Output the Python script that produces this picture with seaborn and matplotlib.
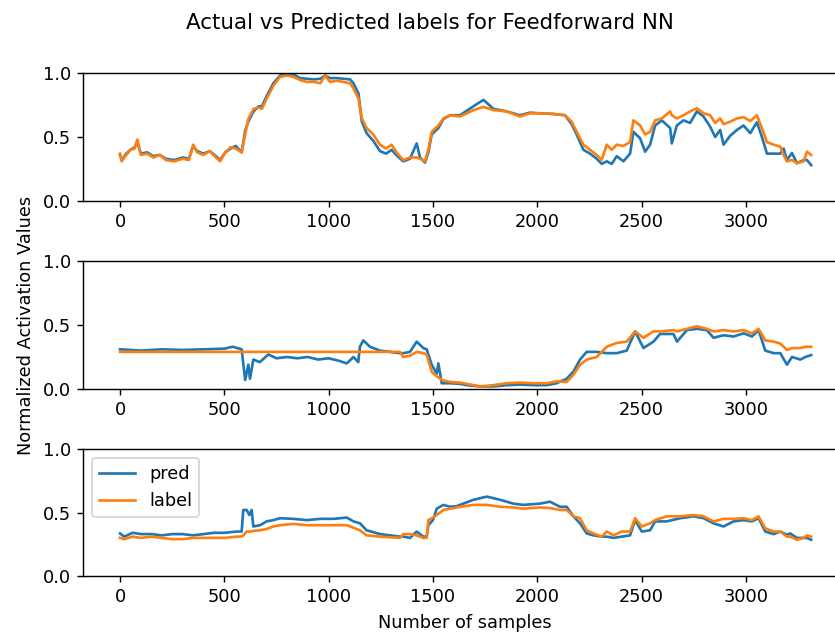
import matplotlib
matplotlib.use("Agg")
import matplotlib.pyplot as plt
import seaborn as sns
import pandas as pd

# ---------------- data ----------------
top_x = [0, 8, 30, 50, 70, 83, 100, 130, 160, 190, 220, 260, 300, 330, 351, 370, 400, 430, 460, 480,
         505, 530, 555, 583, 600, 615, 640, 665, 680, 703, 735, 767, 799, 831, 863, 895, 930, 960, 983,
         1007, 1040, 1070, 1103, 1119, 1143, 1159, 1182, 1214, 1246, 1275, 1302, 1330, 1358, 1390, 1422,
         1438, 1462, 1478, 1494, 1526, 1550, 1582, 1630, 1694, 1742, 1790, 1853, 1917, 1965, 2014, 2077,
         2133, 2165, 2189, 2221, 2253, 2285, 2309, 2333, 2357, 2381, 2413, 2445, 2461, 2493, 2517, 2541,
         2565, 2597, 2637, 2645, 2669, 2701, 2733, 2765, 2797, 2829, 2853, 2877, 2893, 2925, 2957, 2989,
         3021, 3053, 3077, 3101, 3133, 3165, 3181, 3197, 3221, 3245, 3277, 3293, 3313]
top_label = [0.37, 0.31, 0.36, 0.40, 0.41, 0.48, 0.36, 0.37, 0.34, 0.36, 0.32, 0.31, 0.33, 0.32, 0.44,
             0.38, 0.36, 0.39, 0.34, 0.31, 0.38, 0.42, 0.41, 0.38, 0.52, 0.64, 0.72, 0.73, 0.72, 0.80,
             0.90, 0.97, 0.98, 0.97, 0.945, 0.93, 0.93, 0.92, 0.98, 0.93, 0.94, 0.93, 0.92, 0.88, 0.80,
             0.645, 0.57, 0.52, 0.44, 0.41, 0.44, 0.37, 0.32, 0.34, 0.34, 0.33, 0.31, 0.40, 0.54, 0.59,
             0.645, 0.67, 0.66, 0.71, 0.735, 0.71, 0.70, 0.66, 0.685, 0.685, 0.68, 0.67, 0.62, 0.54,
             0.44, 0.40, 0.36, 0.32, 0.44, 0.40, 0.44, 0.43, 0.46, 0.63, 0.59, 0.52, 0.54, 0.63, 0.645,
             0.70, 0.67, 0.645, 0.67, 0.70, 0.725, 0.685, 0.67, 0.61, 0.645, 0.60, 0.62, 0.645, 0.655,
             0.625, 0.67, 0.57, 0.46, 0.44, 0.425, 0.36, 0.31, 0.32, 0.295, 0.31, 0.385, 0.36]
top_pred = [0.36, 0.32, 0.37, 0.40, 0.42, 0.46, 0.37, 0.38, 0.35, 0.36, 0.33, 0.32, 0.34, 0.33, 0.43,
            0.39, 0.37, 0.39, 0.35, 0.32, 0.38, 0.41, 0.43, 0.38, 0.55, 0.62, 0.70, 0.74, 0.74, 0.82,
            0.92, 0.98, 0.99, 0.99, 0.96, 0.955, 0.95, 0.955, 0.98, 0.96, 0.96, 0.955, 0.95, 0.92, 0.84,
            0.62, 0.53, 0.47, 0.39, 0.37, 0.40, 0.35, 0.31, 0.33, 0.45, 0.34, 0.30, 0.38, 0.52, 0.57,
            0.64, 0.67, 0.67, 0.74, 0.79, 0.72, 0.70, 0.67, 0.69, 0.685, 0.68, 0.67, 0.60, 0.52,
            0.40, 0.37, 0.33, 0.29, 0.31, 0.29, 0.35, 0.31, 0.37, 0.54, 0.49, 0.385, 0.44, 0.59, 0.63,
            0.57, 0.45, 0.59, 0.63, 0.61, 0.70, 0.66, 0.58, 0.50, 0.555, 0.44, 0.51, 0.555, 0.59,
            0.53, 0.615, 0.50, 0.37, 0.37, 0.37, 0.41, 0.32, 0.375, 0.295, 0.32, 0.32, 0.28]

mid_x = [0, 100, 200, 300, 400, 500, 540, 583, 600, 615, 623, 639, 670, 711, 750, 800, 850, 900, 950,
         1000, 1050, 1087, 1119, 1142, 1150, 1166, 1198, 1246, 1294, 1342, 1358, 1390, 1422, 1454, 1470,
         1494, 1518, 1526, 1542, 1582, 1630, 1662, 1726, 1790, 1853, 1917, 1981, 2045, 2093, 2141, 2173,
         2205, 2237, 2285, 2333, 2381, 2429, 2469, 2509, 2557, 2589, 2653, 2670, 2717, 2765, 2813, 2845,
         2893, 2941, 2989, 3029, 3061, 3093, 3133, 3165, 3197, 3221, 3261, 3285, 3313]
mid_label = [0.29, 0.29, 0.29, 0.29, 0.29, 0.29, 0.29, 0.29, 0.29, 0.29, 0.29, 0.29, 0.29, 0.29, 0.29,
             0.29, 0.29, 0.29, 0.29, 0.29, 0.29, 0.29, 0.29, 0.29, 0.29, 0.29, 0.29, 0.29, 0.29, 0.29,
             0.25, 0.26, 0.29, 0.28, 0.27, 0.135, 0.10, 0.09, 0.07, 0.055, 0.05, 0.04, 0.02, 0.03, 0.045,
             0.05, 0.045, 0.045, 0.06, 0.055, 0.11, 0.19, 0.23, 0.25, 0.33, 0.36, 0.37, 0.45, 0.40, 0.45,
             0.45, 0.46, 0.45, 0.47, 0.49, 0.47, 0.45, 0.46, 0.45, 0.46, 0.435, 0.47, 0.38, 0.37, 0.355,
             0.305, 0.32, 0.32, 0.33, 0.33]
mid_pred = [0.31, 0.30, 0.31, 0.305, 0.31, 0.315, 0.33, 0.31, 0.07, 0.19, 0.08, 0.23, 0.21, 0.27, 0.24,
            0.25, 0.24, 0.25, 0.23, 0.24, 0.22, 0.20, 0.25, 0.21, 0.33, 0.38, 0.33, 0.30, 0.29, 0.28,
            0.28, 0.29, 0.37, 0.32, 0.31, 0.19, 0.12, 0.20, 0.045, 0.045, 0.04, 0.03, 0.02, 0.02, 0.03,
            0.035, 0.03, 0.03, 0.045, 0.08, 0.135, 0.23, 0.29, 0.29, 0.28, 0.28, 0.30, 0.45, 0.32, 0.37,
            0.43, 0.43, 0.37, 0.46, 0.47, 0.46, 0.40, 0.42, 0.41, 0.435, 0.41, 0.46, 0.30, 0.28, 0.28,
            0.19, 0.25, 0.23, 0.25, 0.265]

bot_x = [0, 20, 60, 100, 150, 200, 250, 300, 350, 400, 450, 500, 560, 583, 591, 607, 620, 631, 639, 671,
         703, 735, 767, 831, 895, 959, 1023, 1087, 1119, 1150, 1182, 1246, 1294, 1342, 1358, 1390, 1422,
         1454, 1470, 1478, 1500, 1518, 1550, 1582, 1614, 1694, 1758, 1822, 1885, 1933, 2014, 2061, 2109,
         2141, 2173, 2205, 2237, 2269, 2309, 2333, 2365, 2405, 2445, 2469, 2501, 2541, 2565, 2621, 2685,
         2749, 2797, 2845, 2893, 2941, 2989, 3029, 3061, 3093, 3133, 3165, 3197, 3213, 3245, 3277, 3293,
         3313]
bot_label = [0.30, 0.29, 0.31, 0.30, 0.31, 0.30, 0.29, 0.29, 0.30, 0.30, 0.30, 0.30, 0.31, 0.31, 0.32,
             0.35, 0.35, 0.35, 0.355, 0.36, 0.37, 0.39, 0.40, 0.41, 0.40, 0.40, 0.40, 0.40, 0.38, 0.36,
             0.32, 0.31, 0.305, 0.30, 0.33, 0.33, 0.32, 0.30, 0.30, 0.44, 0.46, 0.48, 0.52, 0.53, 0.54,
             0.56, 0.56, 0.545, 0.54, 0.53, 0.54, 0.535, 0.52, 0.52, 0.47, 0.455, 0.36, 0.335, 0.31, 0.35,
             0.32, 0.35, 0.35, 0.455, 0.39, 0.415, 0.44, 0.47, 0.47, 0.48, 0.47, 0.43, 0.45, 0.45, 0.455,
             0.44, 0.47, 0.375, 0.35, 0.35, 0.31, 0.31, 0.285, 0.30, 0.32, 0.31]
bot_pred = [0.335, 0.31, 0.34, 0.33, 0.33, 0.32, 0.33, 0.33, 0.32, 0.33, 0.34, 0.34, 0.35, 0.35, 0.52,
            0.52, 0.48, 0.52, 0.39, 0.40, 0.43, 0.44, 0.455, 0.45, 0.44, 0.45, 0.45, 0.46, 0.43, 0.415,
            0.36, 0.33, 0.32, 0.31, 0.31, 0.30, 0.35, 0.31, 0.31, 0.40, 0.44, 0.53, 0.56, 0.545, 0.55,
            0.60, 0.625, 0.60, 0.57, 0.56, 0.57, 0.585, 0.545, 0.545, 0.47, 0.415, 0.335, 0.32, 0.31,
            0.31, 0.30, 0.31, 0.32, 0.44, 0.35, 0.36, 0.43, 0.43, 0.455, 0.47, 0.455, 0.415, 0.39, 0.43,
            0.44, 0.43, 0.455, 0.35, 0.33, 0.35, 0.325, 0.335, 0.30, 0.30, 0.30, 0.285]

series_names = ["pred", "label"]
title = "Actual vs Predicted labels for Feedforward NN"
y_ticks = [0.0, 0.5, 1.0]

# ---------------- figure ----------------
DPI = 128
W, H = 835, 635
fig = plt.figure(figsize=(W / DPI, H / DPI), dpi=DPI)

left = 83.3 / W
width = (846 - 83.3) / W
boxes = [(73, 201), (261, 389), (449, 576)]
panels = [(top_x, top_pred, top_label), (mid_x, mid_pred, mid_label), (bot_x, bot_pred, bot_label)]

axes = []
for (t, b), (xs, pr, lb) in zip(boxes, panels):
    ax = fig.add_axes([left, (H - b) / H, width, (b - t) / H])
    sns.lineplot(x=xs, y=pr, ax=ax, color="#1f77b4", label=series_names[0],
                 estimator=None, sort=False, errorbar=None, linewidth=1.5)
    sns.lineplot(x=xs, y=lb, ax=ax, color="#ff7f0e", label=series_names[1],
                 estimator=None, sort=False, errorbar=None, linewidth=1.5)
    ax.set_ylim(0, 1)
    ax.set_xlim(-176, 3480)
    ax.set_yticks(y_ticks)
    ax.set_xlabel("")
    ax.set_ylabel("")
    ax.get_legend().remove()
    axes.append(ax)

axes[1].set_ylabel("Normalized Activation Values")
axes[2].set_xlabel("Number of samples")
axes[2].legend(loc="upper left")
fig.suptitle(title, x=430 / W, y=0.98, fontsize=12)

fig.savefig("out.png", dpi=DPI)
